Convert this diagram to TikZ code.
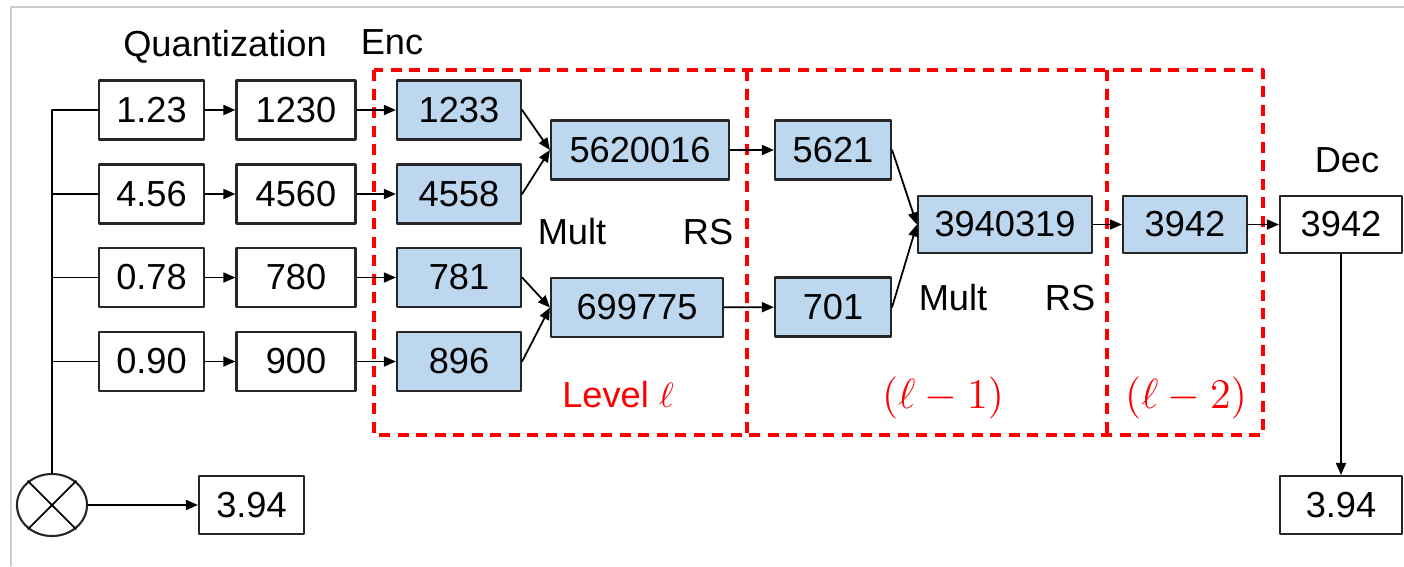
\documentclass[tikz,border=0pt]{standalone}
\usepackage{fontspec}
\setmainfont{Liberation Sans}
\usetikzlibrary{arrows.meta,shapes.geometric}
\definecolor{encblue}{RGB}{189,215,238}

\begin{document}
\begin{tikzpicture}[x=0.01cm,y=-0.01cm,line cap=round,line join=round,
  font=\fontsize{10.3}{12}\selectfont,
  numbox/.style={draw=black!85,line width=0.6pt,minimum height=0.59cm,inner sep=0pt},
  encbox/.style={numbox,fill=encblue},
  conn/.style={line width=0.5pt,-{Triangle[length=1.2mm,width=1mm]}},
  lvl/.style={draw=red,line width=0.9pt,dash pattern=on 1.1mm off 0.75mm,line cap=butt},
  redlbl/.style={text=red}]
  \useasboundingbox (0,0) rectangle (1404,566);
  \draw[black!20,line width=0.4pt] (11,566) -- (11,7) -- (1404,7);

  % inputs and quantized values
  \node[numbox,minimum width=1.05cm] (q1) at (151.5,110) {1.23};
  \node[numbox,minimum width=1.05cm] (q2) at (151.5,194) {4.56};
  \node[numbox,minimum width=1.05cm] (q3) at (151.5,277.5) {0.78};
  \node[numbox,minimum width=1.05cm] (q4) at (151.5,361.5) {0.90};
  \node[numbox,minimum width=1.19cm] (s1) at (296,110) {1230};
  \node[numbox,minimum width=1.19cm] (s2) at (296,194) {4560};
  \node[numbox,minimum width=1.19cm] (s3) at (296,277.5) {780};
  \node[numbox,minimum width=1.19cm] (s4) at (296,361.5) {900};

  % encoded values
  \node[encbox,minimum width=1.24cm] (e1) at (459,110) {1233};
  \node[encbox,minimum width=1.24cm] (e2) at (459,194) {4558};
  \node[encbox,minimum width=1.24cm] (e3) at (459,277.5) {781};
  \node[encbox,minimum width=1.24cm] (e4) at (459,361.5) {896};
  \node[encbox,minimum width=1.78cm] (m1) at (640,150) {5620016};
  \node[encbox,minimum width=1.72cm] (m2) at (637,307.5) {699775};
  \node[encbox,minimum width=1.16cm] (r1) at (833,150) {5621};
  \node[encbox,minimum width=1.16cm] (r2) at (833,307) {701};
  \node[encbox,minimum width=1.74cm,minimum height=0.57cm] (m3) at (1005,224.5) {3940319};
  \node[encbox,minimum width=1.24cm,minimum height=0.57cm] (r3) at (1185,224.5) {3942};

  % decoded values
  \node[numbox,minimum width=1.22cm,minimum height=0.57cm] (dec) at (1341,224.5) {3942};
  \node[numbox,minimum width=1.22cm,minimum height=0.58cm] (out) at (1341,505) {3.94};
  \node[numbox,minimum width=1.05cm,minimum height=0.58cm] (out0) at (251.5,505) {3.94};
  \node[draw=black!85,line width=0.6pt,ellipse,minimum width=0.70cm,minimum height=0.62cm,inner sep=0pt] (prod) at (52,505) {};
  \draw[line width=0.5pt] (prod.45) -- (prod.225);
  \draw[line width=0.5pt] (prod.135) -- (prod.315);

  % labels
  \node (quant) at (225,47) {Quantization};
  \node (enc) at (392,42) {Enc};
  \node (mult1) at (572,232) {Mult};
  \node (rs1) at (708,232) {RS};
  \node (mult2) at (953,298) {Mult};
  \node (rs2) at (1070,298) {RS};
  \node (decl) at (1347,160) {Dec};
  \node[redlbl] (lv0) at (618,395) {Level $\ell$};
  \node[redlbl,font=\fontsize{12}{14}\selectfont] (lv1) at (943,398) {$(\ell-1)$};
  \node[redlbl,font=\fontsize{12}{14}\selectfont] (lv2) at (1186,398) {$(\ell-2)$};

  % level boxes
  \draw[lvl] (374,70) rectangle (1263,435);
  \draw[lvl] (747,70) -- (747,435);
  \draw[lvl] (1107,70) -- (1107,435);

  % connections
  \draw[line width=0.5pt] (prod.north) -- (prod.north |- q1.west);
  \foreach \i in {1,2,3,4} {
    \draw[line width=0.5pt] (prod.north |- q\i.west) -- (q\i.west);
    \draw[conn] (q\i) -- (s\i);
    \draw[conn] (s\i) -- (e\i);
  }
  \draw[conn] (e1.east) -- (m1.west);
  \draw[conn] (e2.east) -- (m1.west);
  \draw[conn] (e3.east) -- (m2.west);
  \draw[conn] (e4.east) -- (m2.west);
  \draw[conn] (m1) -- (r1);
  \draw[conn] (m2) -- (r2);
  \draw[conn] (r1.east) -- (m3.west);
  \draw[conn] (r2.east) -- (m3.west);
  \draw[conn] (m3) -- (r3);
  \draw[conn] (r3) -- (dec);
  \draw[conn] (dec) -- (out);
  \draw[conn] (prod) -- (out0);
\end{tikzpicture}
\end{document}
